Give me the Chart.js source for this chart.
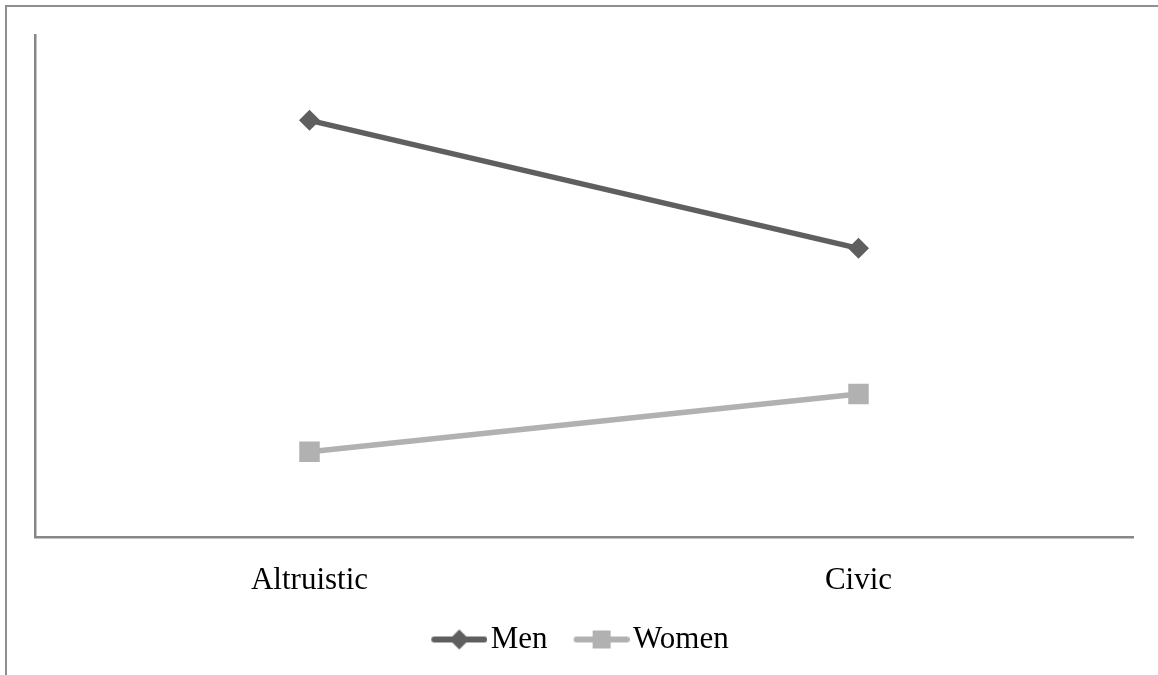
<!DOCTYPE html>
<html>
<head>
<meta charset="utf-8">
<script src="https://cdn.jsdelivr.net/npm/chart.js@4.4.0/dist/chart.umd.min.js"></script>
<style>
    body { margin: 0; background: #fff; }
    #wrap { position: relative; width: 1158px; height: 675px; }
    #frame { position: absolute; left: 5px; top: 5px; right: 0; bottom: 0;
        border-top: 2px solid #8f8f8f; border-left: 2px solid #8f8f8f; }
    canvas { position: absolute; left: 0; top: 0; }
</style>
</head>
<body>
<div id="wrap">
    <div id="frame"></div>
    <canvas id="myChart" width="1158" height="675"></canvas>
</div>
<script>
// data (scale has no ticks, so 0..1)
var categories = ['Altruistic', 'Civic'];
var menValues = [0.83, 0.575];
var womenValues = [0.17, 0.285];

var menColor = '#5f5f5f';
var womenColor = '#b1b1b1';

// legend sample: short line with the marker in the middle.
// the image is wider than the drawn part so the legend spacing comes out right
function legendIcon(color, style) {
    var c = document.createElement('canvas');
    c.width = 84;
    c.height = 22;
    var g = c.getContext('2d');
    var o = 28;
    g.strokeStyle = color;
    g.lineWidth = 6;
    g.lineCap = 'round';
    g.beginPath();
    g.moveTo(o + 3, 11);
    g.lineTo(o + 53, 11);
    g.stroke();
    g.fillStyle = color;
    g.beginPath();
    if (style == 'diamond') {
        g.moveTo(o + 28, 1);
        g.lineTo(o + 38, 11);
        g.lineTo(o + 28, 21);
        g.lineTo(o + 18, 11);
    } else {
        g.rect(o + 19, 2, 18, 18);
    }
    g.fill();
    return c;
}

var icons = [legendIcon(menColor, 'diamond'), legendIcon(womenColor, 'square')];

// nudge the legend a little to the left, like the original
var legendShift = {
    id: 'legendShift',
    afterLayout: function (chart) {
        chart.legend.left -= 8;
        chart.legend.right -= 8;
    }
};

var ctx = document.getElementById('myChart').getContext('2d');
var myChart = new Chart(ctx, {
    type: 'line',
    data: {
        labels: categories,
        datasets: [{
            label: 'Men',
            data: menValues,
            borderColor: menColor,
            backgroundColor: menColor,
            borderWidth: 5.5,
            pointStyle: 'rectRot',
            pointRadius: 10.5,
            pointBorderWidth: 0
        }, {
            label: 'Women',
            data: womenValues,
            borderColor: womenColor,
            backgroundColor: womenColor,
            borderWidth: 5.5,
            pointStyle: 'rect',
            pointRadius: 14.5,
            pointBorderWidth: 0
        }]
    },
    options: {
        responsive: false,
        animation: false,
        layout: {
            padding: { top: 35, left: 27, right: 25, bottom: 10 }
        },
        plugins: {
            tooltip: { enabled: false },
            legend: {
                position: 'bottom',
                labels: {
                    usePointStyle: true,
                    pointStyleWidth: 60,
                    padding: 10,
                    color: '#000',
                    font: { family: 'Liberation Serif', size: 31 },
                    generateLabels: function (chart) {
                        return chart.data.datasets.map(function (ds, i) {
                            return {
                                text: ds.label,
                                pointStyle: icons[i],
                                fillStyle: ds.borderColor,
                                strokeStyle: ds.borderColor,
                                lineWidth: 0,
                                fontColor: '#000',
                                datasetIndex: i
                            };
                        });
                    }
                }
            }
        },
        scales: {
            x: {
                offset: true,
                grid: { display: false },
                border: { color: '#878787', width: 2.5 },
                ticks: {
                    color: '#000',
                    padding: 17,
                    font: { family: 'Liberation Serif', size: 31 }
                },
                afterFit: function (scale) {
                    scale.height = 77;
                }
            },
            y: {
                min: 0,
                max: 1,
                grid: { display: false },
                border: { color: '#878787', width: 2.5 },
                ticks: { display: false }
            }
        }
    },
    plugins: [legendShift]
});
</script>
</body>
</html>
